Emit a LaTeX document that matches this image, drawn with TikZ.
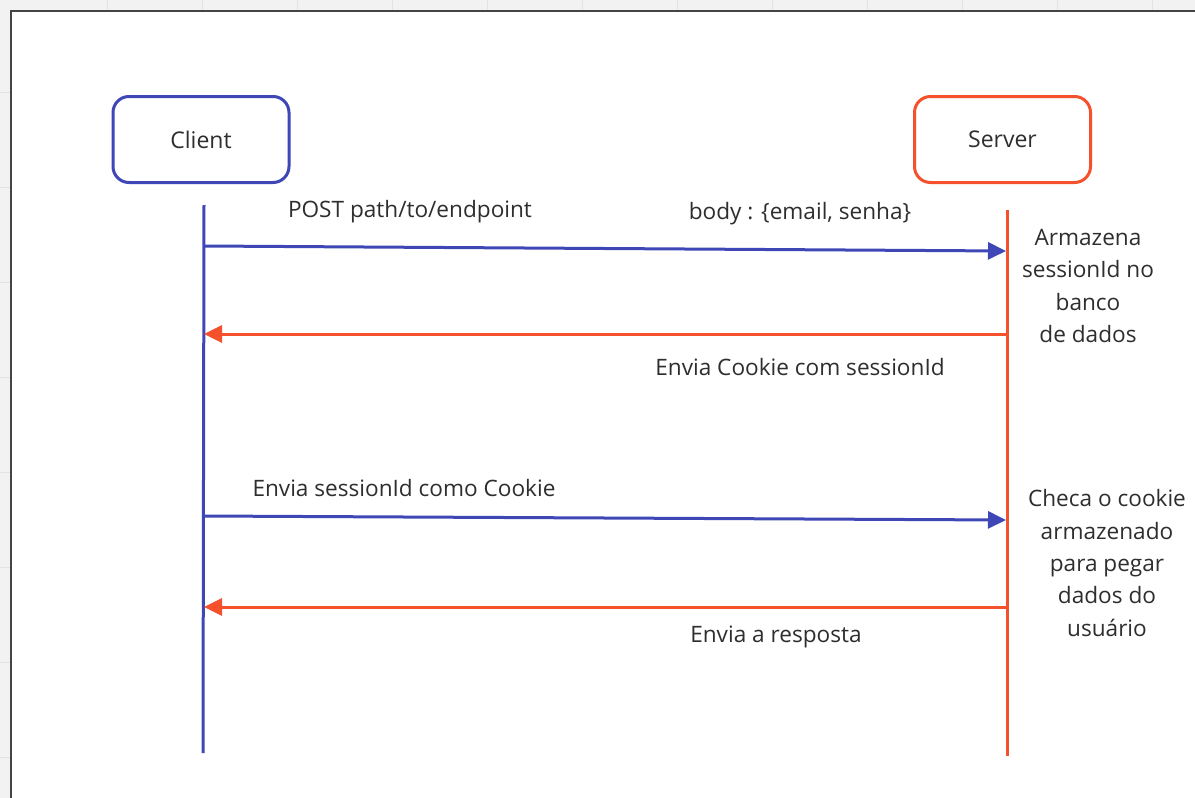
\documentclass[tikz,border=0pt]{standalone}
\usepackage{fontspec}
\setmainfont{Open Sans}
\usetikzlibrary{arrows.meta}
\definecolor{clientblue}{HTML}{3F47B6}
\definecolor{serverred}{HTML}{F4512C}
\definecolor{inkgray}{HTML}{2E2E2E}
\definecolor{canvasgray}{HTML}{F2F2F2}
\definecolor{gridgray}{HTML}{E2E2E2}
\definecolor{framegray}{HTML}{444444}
\begin{document}
\begin{tikzpicture}[x=1pt,y=-1pt,
  actor/.style={draw,line width=3pt,rounded corners=16pt,minimum width=176pt,
    minimum height=86pt,text=inkgray,font=\fontsize{23}{28}\selectfont},
  lifeline/.style={line width=3pt},
  msg/.style={line width=3pt,-{Triangle[length=18pt,width=17pt]}},
  lbl/.style={text=inkgray,font=\fontsize{22.6}{32.3}\selectfont,inner sep=0pt},
  note/.style={lbl,align=center}]
  % canvas with faint grid and the white sheet
  \useasboundingbox (0,0) rectangle (1195,798);
  \fill[canvasgray] (0,0) rectangle (1195,798);
  \foreach \gx in {107,202,...,1195} \draw[gridgray,line width=1pt] (\gx,0) -- (\gx,11);
  \foreach \gy in {92,187,...,798} \draw[gridgray,line width=1pt] (0,\gy) -- (11,\gy);
  \fill[white] (11,11) rectangle (1195,798);
  \draw[framegray,line width=2pt] (11,798) -- (11,11) -- (1195,11);

  % participants
  \node[actor,draw=clientblue] (client) at (201,139.5) {Client};
  \node[actor,draw=serverred] (server) at (1002.5,139.5) {Server};

  % lifelines
  \coordinate (ctop) at (204,205);
  \coordinate (cbot) at (203,753);
  \coordinate (stop) at (1007,210);
  \coordinate (sbot) at (1007,756);
  \draw[lifeline,clientblue] (ctop) -- (cbot);
  \draw[lifeline,serverred] (stop) -- (sbot);

  % messages
  \coordinate (m1a) at (204,246);  \coordinate (m1b) at (1006,251);
  \coordinate (m2a) at (1007,334); \coordinate (m2b) at (204,334);
  \coordinate (m3a) at (204,516);  \coordinate (m3b) at (1006,520);
  \coordinate (m4a) at (1007,607); \coordinate (m4b) at (204,607);
  \draw[msg,clientblue] (m1a) -- (m1b);
  \draw[msg,serverred] (m2a) -- (m2b);
  \draw[msg,clientblue] (m3a) -- (m3b);
  \draw[msg,serverred] (m4a) -- (m4b);

  % message labels
  \node[lbl] (l1) at (410,212) {POST path/to/endpoint};
  \node[lbl] (l2) at (800,214) {body : \{email, senha\}};
  \node[lbl] (l3) at (800,367) {Envia Cookie com sessionId};
  \node[lbl] (l4) at (404,488) {Envia sessionId como Cookie};
  \node[lbl] (l5) at (776,637) {Envia a resposta};

  % server-side notes
  \node[note] (n1) at (1088,286) {Armazena\\sessionId no\\banco\\de dados};
  \node[note] (n2) at (1107,563) {Checa o cookie\\armazenado\\para pegar\\dados do\\usuário};
\end{tikzpicture}
\end{document}
